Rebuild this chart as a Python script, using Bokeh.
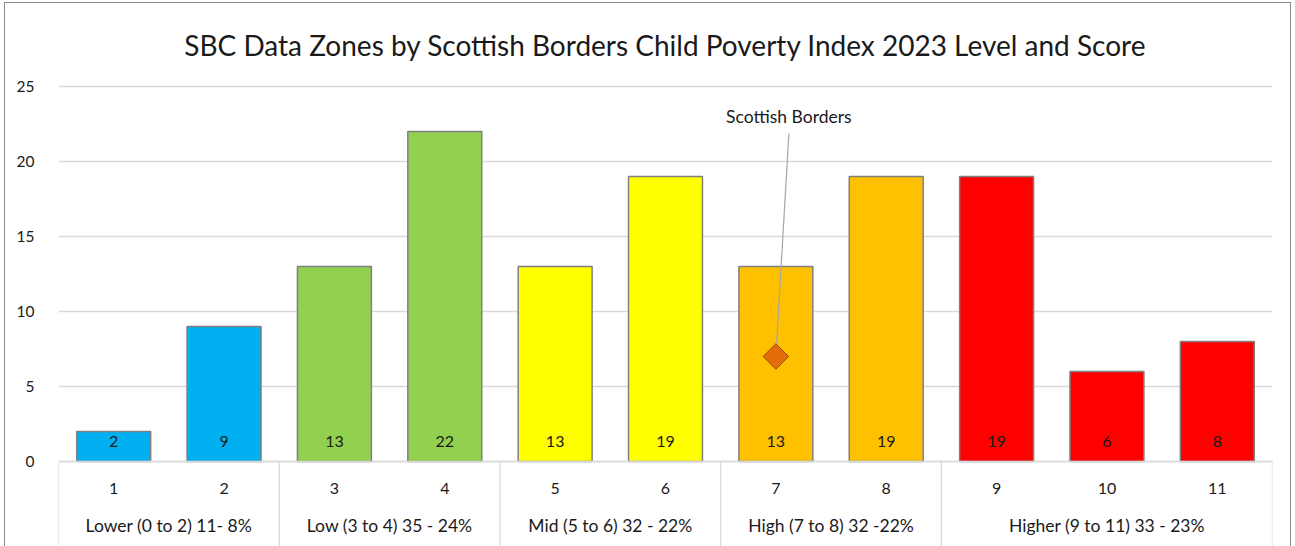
from bokeh.plotting import figure
from bokeh.models import ColumnDataSource, Range1d, FixedTicker
from bokeh.core.properties import value
from bokeh.embed import file_html
from bokeh.resources import INLINE

# ---- data ----
scores = [1, 2, 3, 4, 5, 6, 7, 8, 9, 10, 11]
counts = [2, 9, 13, 22, 13, 19, 13, 19, 19, 6, 8]
score_labels = ["1", "2", "3", "4", "5", "6", "7", "8", "9", "10", "11"]
group_labels = ["Lower (0 to 2) 11- 8%", "Low (3 to 4) 35 - 24%", "Mid (5 to 6) 32 - 22%",
                "High (7 to 8) 32 -22%", "Higher (9 to 11) 33 - 23%"]
group_first = [1, 3, 5, 7, 9]
group_last = [2, 4, 6, 8, 11]
group_colors = ["#00B0F0", "#92D050", "#FFFF00", "#FFC000", "#FF0000"]
sb_label = "Scottish Borders"
sb_score = [7]
sb_value = [7]
y_ticks = [0, 5, 10, 15, 20, 25]
title = "SBC Data Zones by Scottish Borders Child Poverty Index 2023 Level and Score"

FONT = "Lato"

bar_colors = []
for s in scores:
    for g, (a, b) in enumerate(zip(group_first, group_last)):
        if a <= s <= b:
            bar_colors.append(group_colors[g])

src = ColumnDataSource(dict(x=scores, top=counts, color=bar_colors,
                            lab=[str(c) for c in counts], slab=score_labels,
                            zero=[0] * len(scores)))

p = figure(width=1285, height=543, output_backend="svg", toolbar_location=None,
           x_range=Range1d(0.5, 11.5), y_range=Range1d(-5.667, 26.067),
           x_axis_location=None, min_border_left=53, min_border_right=18,
           min_border_top=67, min_border_bottom=0)
p.outline_line_color = None
p.styles = {"margin": "3px 0 0 5px", "outline": "1px solid #8c8c8c"}

p.title.text = title
p.title.align = "center"
p.title.text_font = FONT
p.title.text_font_size = "28px"
p.title.text_font_style = "normal"
p.title.text_color = "#1a1a1a"
p.title.standoff = 18

p.yaxis.ticker = FixedTicker(ticks=y_ticks)
p.yaxis.axis_line_color = None
p.yaxis.major_tick_line_color = None
p.yaxis.minor_tick_line_color = None
p.yaxis.major_label_standoff = 18
p.yaxis.major_label_text_font = FONT
p.yaxis.major_label_text_font_size = "15.5px"
p.yaxis.major_label_text_color = "#1a1a1a"
p.ygrid.ticker = FixedTicker(ticks=y_ticks)
p.ygrid.grid_line_color = "#d9d9d9"
p.ygrid.grid_line_width = 1.3
p.xgrid.visible = False

# bars
p.vbar(x="x", top="top", bottom=0, width=0.67, source=src, fill_color="color",
       line_color="#808080", line_width=1.5)

# data labels inside bars, near the base
p.text(x="x", y="zero", text="lab", source=src, text_align="center", text_baseline="middle",
       y_offset=-20, text_font=value(FONT), text_font_size="16px", text_color="#1a1a1a")

# category axis: baseline, score labels, group labels, separators
p.segment(x0=[0.5], y0=[0], x1=[11.5], y1=[0], line_color="#d9d9d9", line_width=1.3)
p.text(x="x", y="zero", text="slab", source=src, text_align="center", text_baseline="middle",
       y_offset=27, text_font=value(FONT), text_font_size="16px", text_color="#1a1a1a")
gx = [(a + b) / 2 for a, b in zip(group_first, group_last)]
p.text(x=gx, y=[0] * len(gx), text=group_labels, text_align="center", text_baseline="middle",
       y_offset=64, text_font=value(FONT), text_font_size="17.5px", text_color="#1a1a1a")
sep = [a - 0.5 for a in group_first] + [group_last[-1] + 0.5]
p.segment(x0=sep, y0=[0] * len(sep), x1=sep, y1=[-6] * len(sep),
          line_color="#d9d9d9", line_width=1.3)

# Scottish Borders marker and callout
callout_x = [sb_score[0] + 0.118]
callout_y = [21.87]
p.segment(x0=sb_score, y0=sb_value, x1=callout_x, y1=callout_y, line_color="#a6a6a6", line_width=1.2)
p.scatter(x=sb_score, y=sb_value, marker="square", size=18, angle=0.7854,
          fill_color="#E46C0A", line_color="#984807", line_width=1)
p.text(x=callout_x, y=callout_y, text=[sb_label], text_align="center", text_baseline="bottom",
       y_offset=-6, text_font=value(FONT), text_font_size="17.5px", text_color="#1a1a1a")

open("out.html", "w").write(file_html(p, INLINE))
